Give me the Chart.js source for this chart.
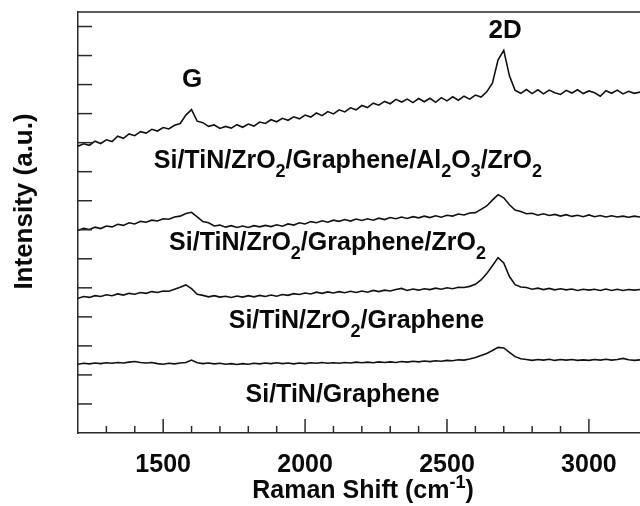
<!DOCTYPE html>
<html><head><meta charset="utf-8">
<script src="https://cdn.jsdelivr.net/npm/chart.js@4.4.1/dist/chart.umd.min.js"></script>
<style>html,body{margin:0;padding:0;background:#fff}#wrap{width:640px;height:506px;position:relative}</style>
</head><body><div id="wrap"><canvas id="c"></canvas></div>
<script>
// Raman shift (cm^-1)
const wavenumbers = [1200,1220,1240,1260,1280,1300,1320,1340,1360,1380,1400,1420,1440,1460,1480,1500,1520,1540,1560,1580,
1600,1620,1640,1660,1680,1700,1720,1740,1760,1780,1800,1820,1840,1860,1880,1900,1920,1940,1960,1980,
2000,2020,2040,2060,2080,2100,2120,2140,2160,2180,2200,2220,2240,2260,2280,2300,2320,2340,2360,2380,
2400,2420,2440,2460,2480,2500,2520,2540,2560,2580,2600,2620,2640,2660,2680,2700,2720,2740,2760,2780,
2800,2820,2840,2860,2880,2900,2920,2940,2960,2980,3000,3020,3040,3060,3080,3100,3120,3140,3160,3180];

const seriesNames = ['Si/TiN/ZrO_2/Graphene/Al_2O_3/ZrO_2','Si/TiN/ZrO_2/Graphene/ZrO_2','Si/TiN/ZrO_2/Graphene','Si/TiN/Graphene'];

// Intensity (a.u., offset stacked)
const intensityAl2O3ZrO2 = [9.88,9.96,9.91,10.05,9.97,10.10,10.04,10.22,10.15,10.30,10.24,10.38,10.33,10.46,10.40,10.52,10.47,10.60,10.66,10.95,
11.14,10.74,10.69,10.56,10.61,10.49,10.56,10.50,10.62,10.53,10.64,10.57,10.71,10.66,10.79,10.72,10.84,10.77,10.89,10.82,
10.95,10.88,11.02,10.93,11.07,10.99,11.13,11.06,11.20,11.13,11.28,11.21,11.36,11.29,11.42,11.34,11.49,11.40,11.50,11.38,
11.52,11.41,11.53,11.39,11.55,11.44,11.58,11.46,11.60,11.50,11.64,11.57,11.75,12.05,12.85,13.18,12.30,11.80,11.70,11.83,
11.69,11.82,11.68,11.81,11.72,11.66,11.80,11.71,11.82,11.69,11.78,11.72,11.60,11.79,11.70,11.81,11.68,11.77,11.70,11.74];

const intensityZrO2 = [6.98,7.05,7.01,7.09,7.04,7.13,7.10,7.19,7.15,7.24,7.20,7.29,7.26,7.33,7.30,7.38,7.36,7.44,7.47,7.56,
7.60,7.44,7.28,7.24,7.13,7.16,7.09,7.14,7.08,7.13,7.08,7.14,7.10,7.15,7.11,7.17,7.12,7.20,7.16,7.24,
7.20,7.28,7.24,7.31,7.26,7.33,7.29,7.35,7.30,7.37,7.32,7.38,7.33,7.40,7.35,7.42,7.38,7.44,7.39,7.45,
7.41,7.47,7.42,7.48,7.43,7.50,7.47,7.54,7.51,7.58,7.59,7.70,7.82,8.02,8.21,8.10,7.86,7.68,7.63,7.55,
7.57,7.50,7.55,7.49,7.53,7.47,7.52,7.46,7.50,7.45,7.51,7.45,7.49,7.44,7.48,7.44,7.47,7.43,7.47,7.44];

const intensityZrO2Graphene = [4.64,4.70,4.67,4.73,4.70,4.76,4.73,4.79,4.75,4.81,4.78,4.84,4.81,4.87,4.84,4.89,4.88,4.95,5.02,5.10,
4.97,4.78,4.74,4.69,4.73,4.68,4.71,4.67,4.72,4.68,4.73,4.69,4.74,4.70,4.75,4.71,4.77,4.74,4.80,4.77,
4.82,4.79,4.85,4.81,4.86,4.82,4.87,4.83,4.88,4.84,4.89,4.85,4.91,4.87,4.92,4.89,4.94,4.98,4.91,4.96,
4.92,4.97,4.94,4.99,4.95,5.00,4.97,5.02,5.01,5.05,5.12,5.27,5.49,5.76,6.04,5.86,5.39,5.11,5.03,5.01,
4.95,4.99,4.94,4.98,4.93,4.97,4.93,4.96,4.91,4.95,4.92,4.95,4.91,4.96,4.91,4.95,4.91,4.94,4.92,4.94];

const intensityTiNGraphene = [2.37,2.40,2.38,2.41,2.39,2.42,2.40,2.43,2.41,2.44,2.46,2.43,2.41,2.43,2.39,2.37,2.40,2.38,2.41,2.43,
2.51,2.42,2.39,2.41,2.38,2.40,2.37,2.39,2.36,2.39,2.37,2.40,2.38,2.41,2.39,2.42,2.39,2.41,2.38,2.41,
2.39,2.42,2.40,2.43,2.40,2.42,2.40,2.43,2.41,2.44,2.42,2.44,2.42,2.45,2.43,2.45,2.43,2.46,2.44,2.47,
2.45,2.48,2.46,2.49,2.47,2.50,2.49,2.52,2.51,2.55,2.60,2.67,2.74,2.84,2.95,2.93,2.78,2.63,2.56,2.53,
2.50,2.53,2.51,2.54,2.50,2.53,2.51,2.53,2.50,2.52,2.50,2.53,2.51,2.54,2.51,2.53,2.57,2.52,2.50,2.52];

const xMajorTicks = [1500,2000,2500,3000];
const peakNames = ['G','2D'];

const FAM = "'Liberation Sans', Arial, Helvetica, sans-serif";
const AXIS_COLOR = '#2a2a2a';

function parseRich(s){
  const segs=[]; let buf='';
  for(let i=0;i<s.length;i++){
    const ch=s[i];
    if(ch==='_'){ if(buf){segs.push({t:buf});buf='';} segs.push({t:s[i+1],sub:true}); i++; }
    else if(ch==='^' && s[i+1]==='{'){ if(buf){segs.push({t:buf});buf='';} const j=s.indexOf('}',i); segs.push({t:s.slice(i+2,j),sup:true}); i=j; }
    else buf+=ch;
  }
  if(buf) segs.push({t:buf});
  return segs;
}
function plain(s){ return s.replace(/_2/g,'\u2082').replace(/_3/g,'\u2083'); }
function setFont(ctx,size,small){ ctx.font = 'bold '+(small?Math.round(size*0.72):size)+'px '+FAM; }
function richWidth(ctx,segs,size){ let w=0; for(const g of segs){ setFont(ctx,size,g.sub||g.sup); w+=ctx.measureText(g.t).width; } return w; }
function drawRich(ctx,str,cx,base,size){
  const segs=parseRich(str); const w=richWidth(ctx,segs,size); let x=cx-w/2;
  ctx.textAlign='left'; ctx.textBaseline='alphabetic';
  for(const g of segs){ setFont(ctx,size,g.sub||g.sup);
    const y = base + (g.sub? size*0.36 : g.sup? -size*0.42 : 0);
    ctx.fillText(g.t,x,y); x+=ctx.measureText(g.t).width; }
}

const decorPlugin = {
  id:'decor',
  afterDraw(chart){
    const ctx=chart.ctx, a=chart.chartArea, xs=chart.scales.x, ys=chart.scales.y;
    ctx.save();
    ctx.strokeStyle=AXIS_COLOR; ctx.lineWidth=1.5; ctx.lineCap='butt';
    // top frame
    ctx.beginPath(); ctx.moveTo(a.left,a.top); ctx.lineTo(chart.width,a.top); ctx.stroke();
    // inward x ticks
    for(const t of xs.ticks){ if(t.value%100!==0) continue; const px=xs.getPixelForValue(t.value); if(px<=a.left+1) continue;
      const len = xMajorTicks.includes(t.value)?14:7;
      ctx.beginPath(); ctx.moveTo(px,a.bottom); ctx.lineTo(px,a.bottom-len); ctx.stroke(); }
    // inward y ticks
    for(const t of ys.ticks){ if(t.value<=0 || t.value%1!==0) continue; const py=ys.getPixelForValue(t.value);
      ctx.beginPath(); ctx.moveTo(a.left,py); ctx.lineTo(a.left+14,py); ctx.stroke(); }
    ctx.fillStyle='#0a0a0a';
    // series labels (anchored in data coordinates)
    const labelAnchors=[[2151,9.14],[2079,6.31],[2181,3.62],[2132,1.07]];
    seriesNames.forEach((n,i)=>{ drawRich(ctx,n,xs.getPixelForValue(labelAnchors[i][0]),ys.getPixelForValue(labelAnchors[i][1]),25); });
    const peakAnchors=[[1602,11.9],[2705,13.62]];
    peakNames.forEach((n,i)=>{ drawRich(ctx,n,xs.getPixelForValue(peakAnchors[i][0]),ys.getPixelForValue(peakAnchors[i][1]),26); });
    // axis titles
    drawRich(ctx,'Raman Shift (cm^{-1})',(a.left+a.right)/2+4,a.bottom+65,25);
    ctx.save(); ctx.translate(32,(a.top+a.bottom)/2-21); ctx.rotate(-Math.PI/2);
    drawRich(ctx,'Intensity (a.u.)',0,0,26); ctx.restore();
    ctx.restore();
  }
};

const dataSeries=[intensityAl2O3ZrO2,intensityZrO2,intensityZrO2Graphene,intensityTiNGraphene];

new Chart(document.getElementById('c'),{
  type:'line',
  data:{ datasets: dataSeries.map((arr,i)=>({
    label: plain(seriesNames[i]),
    data: wavenumbers.map((w,k)=>({x:w,y:arr[k]})),
    borderColor:'#111', borderWidth:1.6, pointRadius:0, tension:0, fill:false
  }))},
  options:{
    responsive:true, maintainAspectRatio:false, animation:false,
    layout:{padding:{top:12,right:0,left:0,bottom:0}},
    plugins:{legend:{display:false},tooltip:{enabled:false}},
    scales:{
      x:{ type:'linear', min:1200, max:3180,
        grid:{display:false},
        border:{display:true,color:AXIS_COLOR,width:1.5},
        ticks:{ stepSize:100, autoSkip:false, maxRotation:0, padding:9, color:'#0a0a0a',
          font:{family:FAM,size:25,weight:'bold'},
          callback:(v)=> xMajorTicks.includes(v)? String(v) : '' },
        afterFit:(s)=>{ s.height=73; s.paddingLeft=0; s.paddingRight=0; }
      },
      y:{ min:0, max:14.5,
        grid:{display:false},
        border:{display:true,color:AXIS_COLOR,width:1.5},
        ticks:{ display:false, stepSize:1 },
        afterFit:(s)=>{ s.width=78; s.paddingTop=0; s.paddingBottom=0; }
      }
    }
  },
  plugins:[decorPlugin]
});
</script></body></html>
